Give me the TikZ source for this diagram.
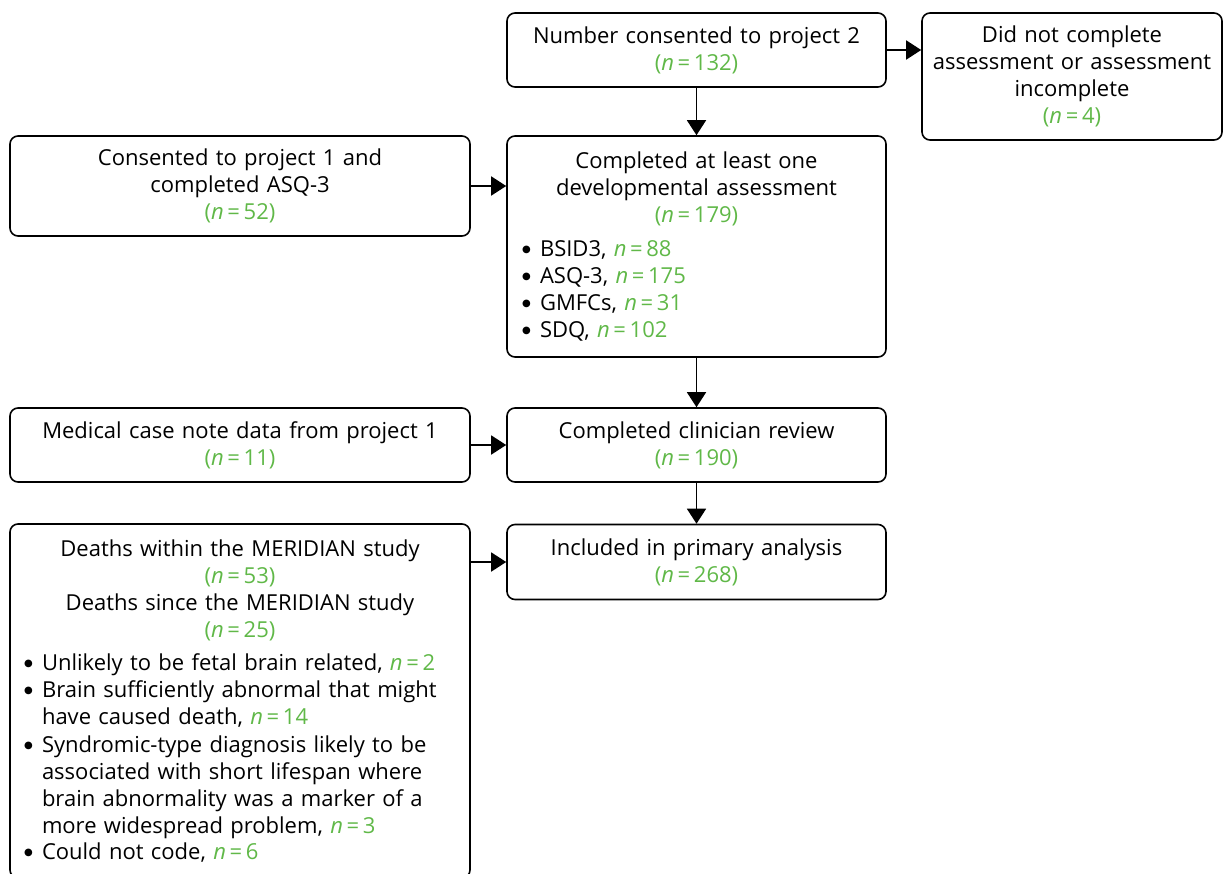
\documentclass[tikz,border=0pt]{standalone}
\usepackage{fontspec}
\setmainfont{Open Sans}
\newfontfamily\symf{DejaVu Sans}
\usetikzlibrary{arrows.meta}
\definecolor{grn}{RGB}{96,184,72}
\newcommand\gnum[1]{\textcolor{grn}{(\textit{n}\,=\,#1)}}
\newcommand\gval[1]{\textcolor{grn}{\textit{n}\,=\,#1}}
\newcommand\bitem{\makebox[18pt][l]{\raisebox{4.2pt}{\fontsize{10}{10}\selectfont\symf ●}}}
\newcommand\bwrap[1]{\bitem\begin{tabular}[t]{@{}l@{}}#1\end{tabular}}
\tikzset{
  box/.style={draw, line width=1.6pt, rounded corners=8pt, rectangle,
    inner xsep=16pt, inner ysep=0pt, font=\fontsize{22}{27}\selectfont},
  arr/.style={line width=1.6pt, -{Triangle[length=15pt,width=19pt]}}
}
\begin{document}
\begin{tikzpicture}[x=1pt,y=-1pt]
\useasboundingbox (0,0) rectangle (1225,873);
\node[box, minimum width=379pt, minimum height=74pt, text width=347pt, align=center] (A) at (696.5,50)
  {Number consented to project 2\\\gnum{132}};
\node[box, minimum width=300pt, minimum height=127pt, text width=280pt, inner xsep=10pt, align=center] (B) at (1072,76.5)
  {Did not complete\\assessment or assessment\\incomplete\\\gnum{4}};
\node[box, minimum width=460pt, minimum height=100pt, text width=428pt, align=center] (C) at (240,186)
  {Consented to project 1 and\\completed ASQ-3\\\gnum{52}};
\node[box, minimum width=379pt, minimum height=221pt, text width=349pt, inner xsep=15pt, align=left] (D) at (696.5,246.5)
  {{\centering Completed at least one\\developmental assessment\\\gnum{179}\par}
   \vspace{7pt}
   \bitem BSID3, \gval{88}\\
   \bitem ASQ-3, \gval{175}\\
   \bitem GMFCs, \gval{31}\\
   \bitem SDQ, \gval{102}};
\node[box, minimum width=460pt, minimum height=74pt, text width=428pt, align=center] (E) at (240,445)
  {Medical case note data from project 1\\\gnum{11}};
\node[box, minimum width=379pt, minimum height=74pt, text width=347pt, align=center] (F) at (696.5,445)
  {Completed clinician review\\\gnum{190}};
\node[box, minimum width=460pt, minimum height=354pt, text width=432pt, inner xsep=14pt, align=left] (G) at (240,701)
  {{\centering Deaths within the MERIDIAN study\\\gnum{53}\\Deaths since the MERIDIAN study\\\gnum{25}\par}
   \vspace{6pt}
   \bitem Unlikely to be fetal brain related, \gval{2}\\
   \bwrap{Brain sufficiently abnormal that might\\have caused death, \gval{14}}\\
   \bwrap{Syndromic-type diagnosis likely to be\\associated with short lifespan where\\brain abnormality was a marker of a\\more widespread problem, \gval{3}}\\
   \bitem Could not code, \gval{6}};
\node[box, minimum width=379pt, minimum height=75pt, text width=347pt, align=center] (H) at (696.5,562)
  {Included in primary analysis\\\gnum{268}};
\draw[arr] (A.east) -- (A.east -| B.west);
\draw[arr] (A.south) -- (D.north);
\draw[arr] (C.east) -- (C.east -| D.west);
\draw[arr] (D.south) -- (F.north);
\draw[arr] (E.east) -- (F.west);
\draw[arr] (F.south) -- (H.north);
\draw[arr] (H.west -| G.east) -- (H.west);
\end{tikzpicture}
\end{document}
